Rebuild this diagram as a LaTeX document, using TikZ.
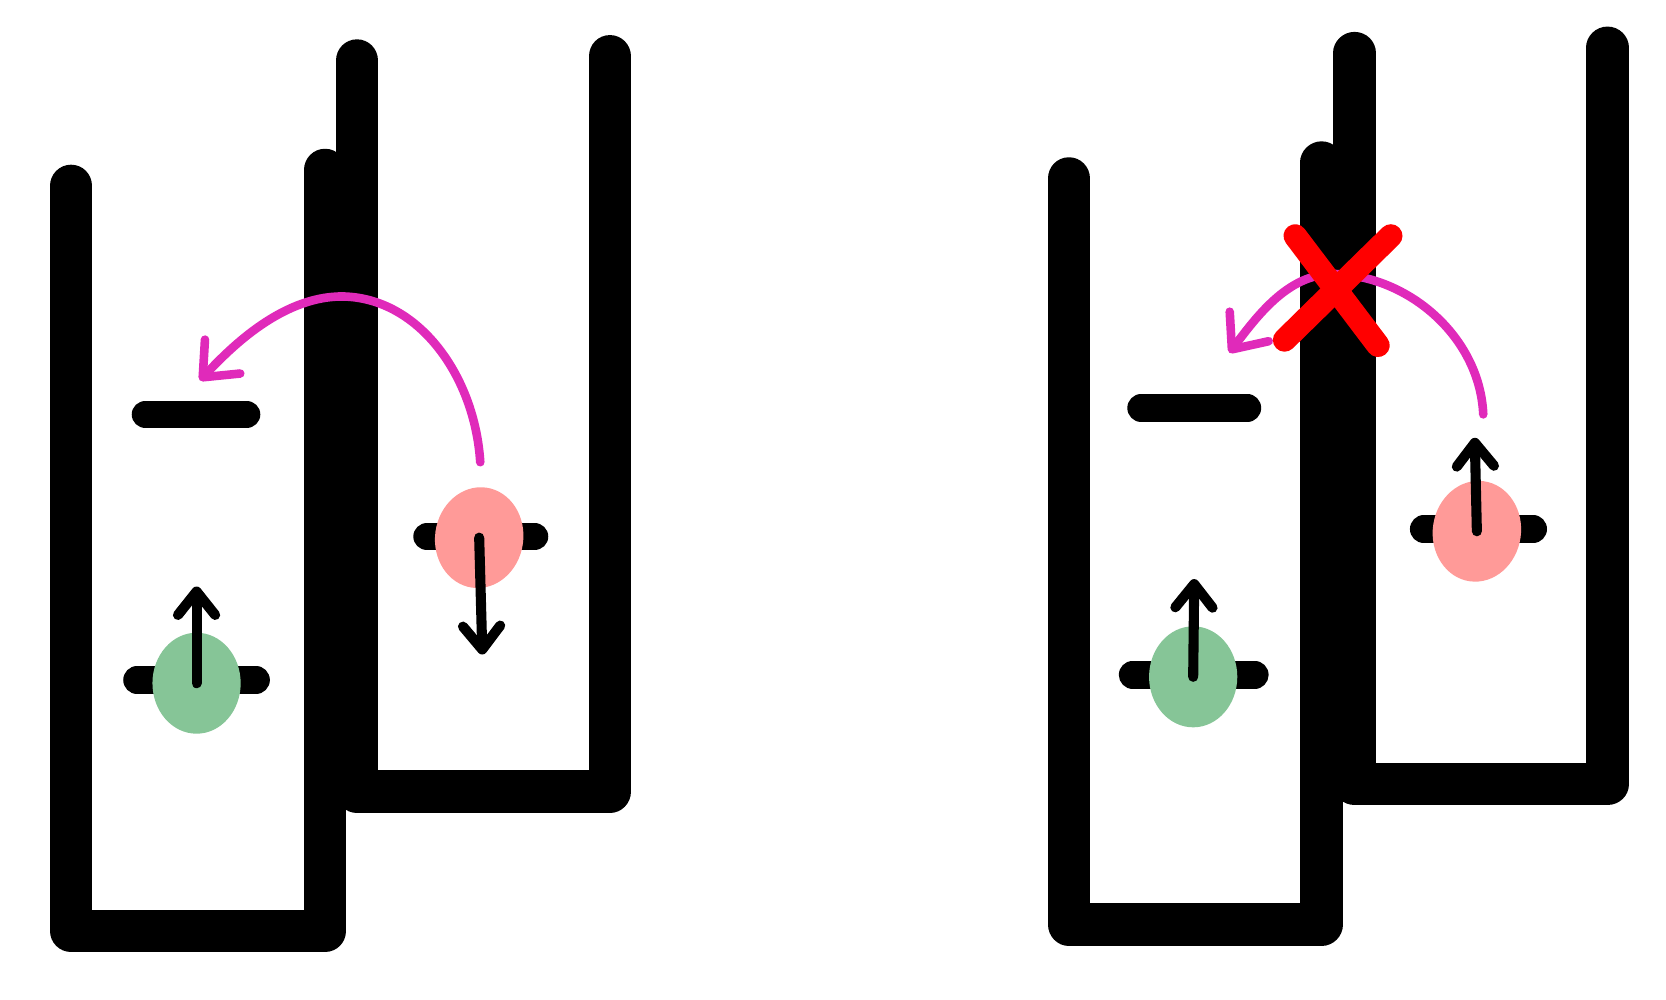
\documentclass[tikz,border=0pt]{standalone}
\usetikzlibrary{arrows.meta,shapes.geometric}

\definecolor{greenblob}{RGB}{134,197,151}
\definecolor{pinkblob}{RGB}{255,154,152}
\definecolor{hopcol}{RGB}{224,42,186}

\begin{document}
\begin{tikzpicture}[x=0.01cm, y=-0.01cm]

% Keep the size of the whole picture
\useasboundingbox (0,0) rectangle (1568,941);

% Define styles for walls and levels
\tikzstyle{wall} = [line width=0.4cm, line cap=round, line join=round]
\tikzstyle{orbital} = [line width=0.26cm, line cap=round]

% Define styles for electrons and arrows
\tikzstyle{blob} = [ellipse, minimum width=0.83cm, minimum height=0.95cm, inner sep=0pt]
\tikzstyle{spin} = [line width=2.7pt, line cap=round, -{Straight Barb[round, length=2.2mm, width=3.5mm]}]
\tikzstyle{hop} = [hopcol, line width=2.3pt, line cap=round, -{Straight Barb[round, length=2.7mm, width=4.6mm]}]
\tikzstyle{nogo} = [red, line width=0.22cm, line cap=round]

%Left pair of wells
\draw[wall] (336,57) -- (336,745) -- (574,745) -- (574,53);
\draw[wall] (67,175) -- (67,876) -- (306,876) -- (306,160);

\draw[orbital] (137,390) -- (232,390);
\draw[orbital] (129,640) -- (241,640);
\draw[orbital] (402,505) -- (503,505);

\node[blob, fill=greenblob] (eA) at (185,643) {};
\node[blob, fill=pinkblob, rotate=-8] (eB) at (451,506) {};

\coordinate (spinA) at (185,552);
\coordinate (spinB) at (454,616);
\draw[spin] (eA.center) -- (spinA);
\draw[spin] (eB.center) -- (spinB);

\coordinate (hopA) at (452,435);
\coordinate (topA) at (322,279);
\coordinate (landA) at (188,358);
\draw[hop] (hopA) .. controls (447,355) and (395,280) .. (topA)
                  .. controls (262,279) and (212,333) .. (landA);

%Right pair of wells
\draw[wall] (1275,50) -- (1275,738) -- (1513,738) -- (1513,45);
\draw[wall] (1006,168) -- (1006,870) -- (1244,870) -- (1244,153);

\draw[orbital] (1074,384) -- (1174,384);
\draw[orbital] (1066,635) -- (1181,635);
\draw[orbital] (1340,498) -- (1443,498);

\node[blob, fill=greenblob] (eC) at (1123,637) {};
\node[blob, fill=pinkblob, rotate=-8] (eD) at (1390,500) {};

\coordinate (spinC) at (1124,545);
\coordinate (spinD) at (1388,412);
\draw[spin] (eC.center) -- (spinC);
\draw[spin] (eD.center) -- (spinD);

\coordinate (hopD) at (1396,390);
\coordinate (topD) at (1260,258);
\coordinate (landD) at (1157,332);
\draw[hop] (hopD) .. controls (1393,320) and (1330,262) .. (topD)
                  .. controls (1215,255) and (1185,295) .. (landD);

\draw[nogo] (1219,222) -- (1297,325);
\draw[nogo] (1309,222) -- (1209,320);

\end{tikzpicture}
\end{document}
